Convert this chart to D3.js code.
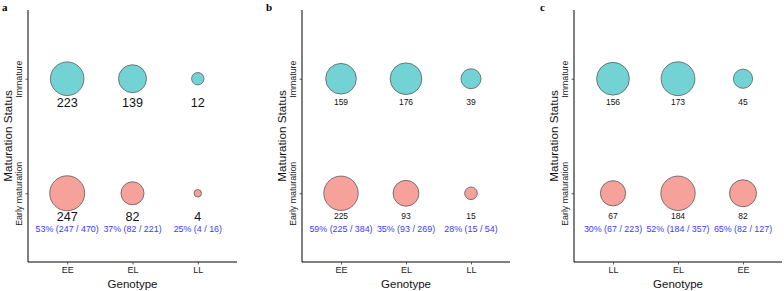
<!DOCTYPE html>
<html><head><meta charset="utf-8">
<script src="https://cdn.jsdelivr.net/npm/d3@7"></script>
<style>body{margin:0;background:#fff}svg{display:block}</style>
</head><body>
<svg id="chart" width="784" height="291"></svg>
<script>
// ---- data ----
const panelLetters = ["a", "b", "c"];
const statuses = ["Early maturation", "Immature"];
const genotypesA = ["EE", "EL", "LL"];
const genotypesB = ["EE", "EL", "LL"];
const genotypesC = ["LL", "EL", "EE"];
const immatureA = [223, 139, 12];
const earlyA = [247, 82, 4];
const immatureB = [159, 176, 39];
const earlyB = [225, 93, 15];
const immatureC = [156, 173, 45];
const earlyC = [67, 184, 82];
const xTitle = "Genotype";
const yTitle = "Maturation Status";

// ---- layout / style ----
const panels = [
  {letter: panelLetters[0], geno: genotypesA, imm: immatureA, early: earlyA, x0: 28, x1: 237, rr: [3.7, 17.5], countFont: 12.6, countOff: 28, letterX: 2},
  {letter: panelLetters[1], geno: genotypesB, imm: immatureB, early: earlyB, x0: 302, x1: 510, rr: [6.3, 17.2], countFont: 8.5, countOff: 26, letterX: 266},
  {letter: panelLetters[2], geno: genotypesC, imm: immatureC, early: earlyC, x0: 574, x1: 782, rr: [9.6, 17.2], countFont: 8.5, countOff: 26, letterX: 540}
];
const yTop = 10, yBot = 262;
const font = "Liberation Sans, Arial, sans-serif";
const cyan = "#73D3D4", pink = "#F7A19B", blue = "#3A3AFF";

const svg = d3.select("#chart");

panels.forEach(p => {
  const g = svg.append("g");
  const x = d3.scalePoint().domain(p.geno).range([p.x0, p.x1]).padding(0.6);
  const y = d3.scalePoint().domain(statuses).range([yBot, yTop]).padding(0.6);
  const all = p.imm.concat(p.early);
  const t = d3.scaleLinear().domain(d3.extent(all)).range([0, 1]);
  const rs = d3.scaleSqrt().domain([0, 1]).range(p.rr);
  const r = v => rs(t(v));

  // axes
  const xAxis = d3.axisBottom(x).tickSize(2.5).tickSizeOuter(0).tickPadding(2);
  const gx = g.append("g").attr("transform", `translate(0,${yBot})`).call(xAxis);
  gx.select(".domain").attr("d", `M${p.x0},0H${p.x1}`).attr("stroke", "#000").attr("stroke-width", 1);
  gx.selectAll(".tick line").attr("stroke", "#333").attr("stroke-width", 0.8);
  gx.selectAll(".tick text").attr("font-family", font).attr("font-size", 9).attr("fill", "#222");

  const yAxis = d3.axisLeft(y).tickSize(2.5).tickSizeOuter(0).tickPadding(2);
  const gy = g.append("g").attr("transform", `translate(${p.x0},0)`).call(yAxis);
  gy.select(".domain").attr("d", `M0,${yTop}V${yBot}`).attr("stroke", "#000").attr("stroke-width", 1);
  gy.selectAll(".tick line").attr("stroke", "#333").attr("stroke-width", 0.8);
  gy.selectAll(".tick text")
    .attr("font-family", font).attr("font-size", 8.8).attr("fill", "#222")
    .attr("transform", "rotate(-90)").attr("x", 0).attr("y", -6)
    .attr("text-anchor", "middle").attr("dy", 0);

  // titles
  g.append("text").attr("x", (p.x0 + p.x1) / 2).attr("y", 288)
    .attr("text-anchor", "middle").attr("font-family", font).attr("font-size", 11.5)
    .attr("fill", "#111").text(xTitle);
  g.append("text").attr("transform", `translate(${p.x0 - 16},${(yTop + yBot) / 2}) rotate(-90)`)
    .attr("text-anchor", "middle").attr("font-family", font).attr("font-size", 11.7)
    .attr("fill", "#111").text(yTitle);
  g.append("text").attr("x", p.letterX).attr("y", 11)
    .attr("font-family", "Liberation Serif, Times New Roman, serif").attr("font-weight", "bold")
    .attr("font-size", 11).attr("fill", "#000").text(p.letter);

  const rows = [];
  p.geno.forEach((gname, i) => {
    rows.push({geno: gname, status: statuses[1], v: p.imm[i], fill: cyan});
    rows.push({geno: gname, status: statuses[0], v: p.early[i], fill: pink, total: p.imm[i] + p.early[i]});
  });

  g.selectAll("circle.pt").data(rows).join("circle")
    .attr("cx", d => x(d.geno)).attr("cy", d => y(d.status)).attr("r", d => r(d.v))
    .attr("fill", d => d.fill).attr("stroke", "#5a5a5a").attr("stroke-width", 0.8);

  g.selectAll("text.cnt").data(rows).join("text")
    .attr("x", d => x(d.geno)).attr("y", d => y(d.status) + p.countOff)
    .attr("text-anchor", "middle").attr("font-family", font).attr("font-size", p.countFont)
    .attr("fill", "#111").text(d => d.v);

  g.selectAll("text.pct").data(rows.filter(d => d.total)).join("text")
    .attr("x", d => x(d.geno)).attr("y", d => y(d.status) + 39)
    .attr("text-anchor", "middle").attr("font-family", font).attr("font-size", 8.9)
    .attr("fill", blue)
    .text(d => `${Math.round(100 * d.v / d.total)}% (${d.v} / ${d.total})`);
});
</script>
</body></html>
